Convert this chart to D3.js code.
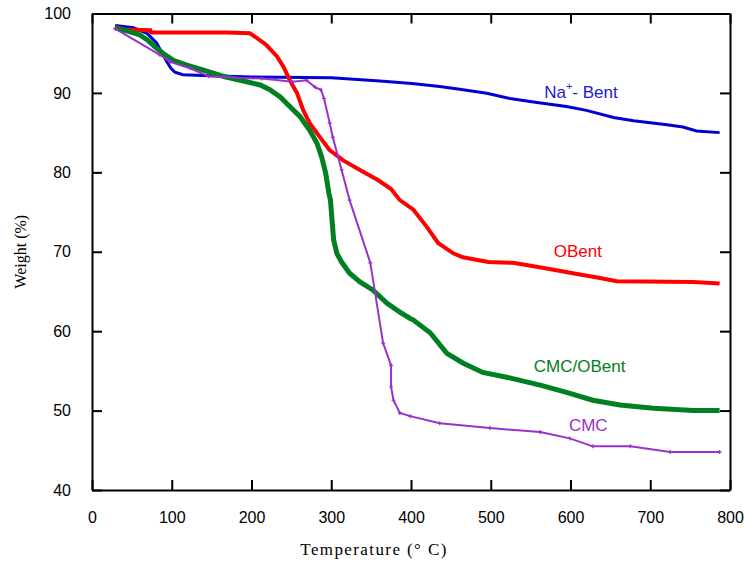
<!DOCTYPE html>
<html>
<head>
<meta charset="utf-8">
<script src="https://cdn.jsdelivr.net/npm/d3@7"></script>
<style>
  body { margin: 0; background: #fff; }
  text { font-family: "Liberation Sans", Arial, sans-serif; }
  text.serif { font-family: "Liberation Serif", "Times New Roman", serif; }
</style>
</head>
<body>
<div id="chart"></div>
<script>
// tick values
const xTicks = [0, 100, 200, 300, 400, 500, 600, 700, 800];
const yTicks = [40, 50, 60, 70, 80, 90, 100];

// Na+-Bent: [temperature, weight]
const bentData = [
  [29, 98.5], [52, 98.2], [69, 97.5], [81, 96.3], [94, 93.9], [99, 93.1], [104, 92.6],
  [114, 92.3], [140, 92.2], [200, 92.0], [300, 91.9], [361, 91.5], [401, 91.2],
  [436, 90.8], [461, 90.45], [495, 89.95], [524, 89.3], [558, 88.8], [595, 88.3],
  [620, 87.8], [654, 86.9], [679, 86.5], [721, 86.0], [741, 85.7], [758, 85.2], [787, 85.0]
];

// OBent
const obentData = [
  [29, 98.3], [41, 98.0], [73, 97.9], [74, 97.6], [169, 97.6], [198, 97.5], [207, 96.9],
  [219, 96.0], [232, 94.6], [240, 93.3], [248, 91.6], [257, 90.0], [265, 87.8],
  [273, 86.2], [286, 84.4], [298, 82.8], [315, 81.5], [336, 80.3], [359, 79.0],
  [375, 77.9], [386, 76.5], [403, 75.3], [420, 73.1], [434, 71.1], [453, 69.8],
  [465, 69.3], [497, 68.7], [528, 68.6], [570, 67.9], [603, 67.3], [637, 66.7],
  [658, 66.3], [754, 66.2], [787, 66.0]
];

// CMC/OBent
const cmcObentData = [
  [29, 98.2], [48, 97.7], [60, 97.3], [69, 96.7], [79, 95.8], [89, 95.0], [102, 94.1],
  [119, 93.5], [139, 92.9], [164, 92.1], [194, 91.4], [211, 91.0], [223, 90.4],
  [236, 89.5], [248, 88.3], [261, 87.0], [273, 85.3], [282, 83.7], [288, 81.9],
  [293, 79.9], [297, 77.4], [299, 76.5], [301, 74.0], [303, 71.5], [307, 69.8],
  [313, 68.7], [323, 67.3], [336, 66.2], [352, 65.2], [370, 63.5], [386, 62.4],
  [399, 61.6], [403, 61.4], [424, 59.8], [445, 57.2], [465, 56.0], [490, 54.8],
  [520, 54.2], [562, 53.2], [595, 52.3], [628, 51.3], [662, 50.7], [704, 50.3],
  [754, 50.0], [787, 50.0]
];

// CMC
const cmcData = [
  [29, 98.1], [85, 94.8], [98, 93.9], [123, 93.1], [146, 92.1], [164, 92.0],
  [213, 91.8], [251, 91.4], [269, 91.6], [280, 90.7], [287, 90.4], [291, 89.3],
  [298, 86.2], [302, 84.4], [313, 80.3], [323, 76.5], [349, 68.6], [365, 58.5],
  [375, 55.7], [375, 53.0], [378, 51.3], [386, 49.7], [399, 49.3], [436, 48.4],
  [499, 47.8], [562, 47.3], [599, 46.5], [628, 45.5], [675, 45.5], [725, 44.8],
  [787, 44.8]
];

const series = [
  { name: "bent", data: bentData, color: "#0000d4", width: 3 },
  { name: "obent", data: obentData, color: "#ff0000", width: 4 },
  { name: "cmcobent", data: cmcObentData, color: "#008020", width: 5 },
  { name: "cmc", data: cmcData, color: "#9932cc", width: 2, markers: true }
];

const W = 744, H = 567;
const margin = { top: 13.5, right: 14, bottom: 77, left: 92 };
const width = W - margin.left - margin.right,
      height = H - margin.top - margin.bottom;

const svg = d3.select("#chart")
  .append("svg")
  .attr("width", W)
  .attr("height", H)
  .append("g")
  .attr("transform", `translate(${margin.left},${margin.top})`);

const x = d3.scaleLinear().domain([0, 800]).range([0, width]);
const y = d3.scaleLinear().domain([40, 100]).range([height, 0]);

// lines
const line = d3.line().x(d => x(d[0])).y(d => y(d[1]));

series.forEach(s => {
  svg.append("path")
    .datum(s.data)
    .attr("fill", "none")
    .attr("stroke", s.color)
    .attr("stroke-width", s.width)
    .attr("d", line);
  if (s.markers) {
    svg.selectAll(null)
      .data(s.data)
      .enter().append("path")
      .attr("transform", d => `translate(${x(d[0])},${y(d[1])})`)
      .attr("d", "M-2,0H2M0,-2V2")
      .attr("stroke", s.color)
      .attr("stroke-width", 1.2);
  }
});

// axes, ticks pointing inward on all four sides
const tickLen = 10;
function styleAxis(g) {
  g.select(".domain").attr("stroke", "#000").attr("stroke-width", 2);
  g.selectAll(".tick line").attr("stroke", "#000").attr("stroke-width", 2);
}

svg.append("g")
  .attr("transform", `translate(0,${height})`)
  .call(d3.axisBottom(x).tickValues(xTicks).tickSize(-tickLen).tickSizeOuter(0).tickPadding(22))
  .call(styleAxis)
  .call(g => g.selectAll("text").attr("font-size", 16).attr("fill", "#000")
    .style("font-family", "Liberation Sans, Arial, sans-serif"));

svg.append("g")
  .call(d3.axisTop(x).tickValues(xTicks).tickSize(-tickLen).tickSizeOuter(0).tickFormat(""))
  .call(styleAxis);

svg.append("g")
  .call(d3.axisLeft(y).tickValues(yTicks).tickSize(-tickLen).tickSizeOuter(0).tickPadding(21))
  .call(styleAxis)
  .call(g => g.selectAll("text").attr("font-size", 16).attr("fill", "#000")
    .style("font-family", "Liberation Sans, Arial, sans-serif"));

svg.append("g")
  .attr("transform", `translate(${width},0)`)
  .call(d3.axisRight(y).tickValues(yTicks).tickSize(-tickLen).tickSizeOuter(0).tickFormat(""))
  .call(styleAxis);

// axis titles
svg.append("text")
  .attr("class", "serif")
  .attr("x", 282)
  .attr("y", height + 65)
  .attr("text-anchor", "middle")
  .attr("font-size", 17)
  .attr("letter-spacing", 1.4)
  .text("Temperature (° C)");

svg.append("text")
  .attr("class", "serif")
  .attr("transform", `translate(${-66},${height / 2}) rotate(-90)`)
  .attr("text-anchor", "middle")
  .attr("font-size", 16)
  .text("Weight (%)");

// series labels
const labels = [
  { t: 567, w: 89.3, color: "#1a1acc", parts: [["Na", 0], ["+", 1], ["- Bent", 0]] },
  { t: 579, w: 69.3, color: "#ff0000", parts: [["OBent", 0]] },
  { t: 554, w: 54.85, color: "#008020", parts: [["CMC/OBent", 0]] },
  { t: 598, w: 47.4, color: "#9932cc", parts: [["CMC", 0]] }
];

labels.forEach(l => {
  const txt = svg.append("text")
    .attr("x", x(l.t))
    .attr("y", y(l.w))
    .attr("fill", l.color)
    .attr("font-size", 17);
  l.parts.forEach(p => {
    const ts = txt.append("tspan").text(p[0]);
    if (p[1]) ts.attr("font-size", 11).attr("dy", -8);
    else if (txt.selectAll("tspan").size() > 1) ts.attr("dy", 8);
  });
});
</script>
</body>
</html>
